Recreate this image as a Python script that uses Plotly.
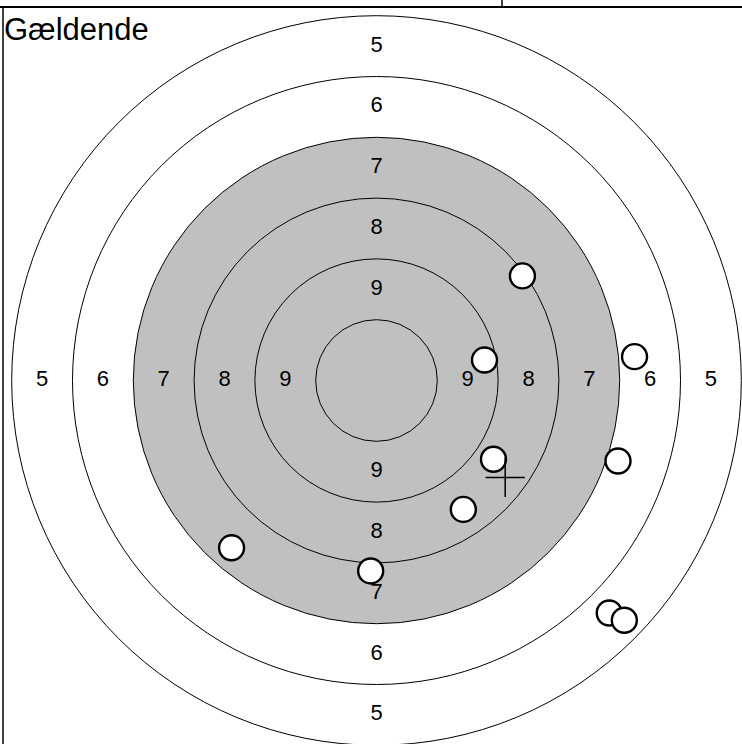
import plotly.graph_objects as go

# Target geometry (mm): ring number -> outer radius
ring_numbers = [5, 6, 7, 8, 9, 10]
ring_radii = [150, 125, 100, 75, 50, 25]
black_from_ring = 7

# Shot positions (mm, x right, y up)
shot_x = [60.0, 44.4, 106.1, 48.1, 99.3, 35.7, -59.6, -2.4, 95.7, 101.9]
shot_y = [43.0, 8.4, 9.8, -32.4, -33.1, -53.0, -68.8, -78.3, -95.6, -98.6]

title_text = "Gældende"

fig = go.Figure()

shapes = []
for num, r in zip(ring_numbers, ring_radii):
    fill = "#c0c0c0" if num >= black_from_ring else "white"
    shapes.append(dict(type="circle", xref="x", yref="y", x0=-r, y0=-r, x1=r, y1=r,
                       fillcolor=fill, line=dict(color="black", width=1), layer="below"))

# Ring labels along the four axes
lab_x, lab_y, lab_t = [], [], []
for i, num in enumerate(ring_numbers[:-1]):
    mid = (ring_radii[i] + ring_radii[i + 1]) / 2
    for dx, dy in [(-1, 0), (1, 0), (0, 1), (0, -1)]:
        lab_x.append(dx * mid)
        lab_y.append(dy * mid)
        lab_t.append(str(num))

fig.add_trace(go.Scatter(x=lab_x, y=lab_y, text=lab_t, mode="text",
                         textfont=dict(family="Liberation Sans, Arial", size=22, color="black"),
                         hoverinfo="skip"))

fig.add_trace(go.Scatter(x=shot_x, y=shot_y, mode="markers",
                         marker=dict(size=25, color="white", line=dict(color="black", width=2.4))))

mean_x = sum(shot_x) / len(shot_x)
mean_y = sum(shot_y) / len(shot_y)
fig.add_trace(go.Scatter(x=[mean_x], y=[mean_y], mode="markers",
                         marker=dict(symbol="cross-thin", size=28,
                                     line=dict(color="black", width=1.5))))

# Frame lines (paper coordinates)
H = 744.0
W = 742.0
shapes.append(dict(type="line", xref="paper", yref="paper", x0=0, x1=1,
                   y0=1 - 7 / H, y1=1 - 7 / H, line=dict(color="black", width=2)))
shapes.append(dict(type="line", xref="paper", yref="paper", x0=3 / W, x1=3 / W,
                   y0=0, y1=1 - 7 / H, line=dict(color="black", width=1.5)))
shapes.append(dict(type="line", xref="paper", yref="paper", x0=502 / W, x1=502 / W,
                   y0=1 - 7 / H, y1=1, line=dict(color="black", width=1.5)))

scale = 60.8 / 25.0
cx, cy = 376.5, 380.5
fig.update_layout(
    width=742, height=744,
    margin=dict(l=0, r=0, t=0, b=0),
    paper_bgcolor="white", plot_bgcolor="white",
    showlegend=False,
    shapes=shapes,
    xaxis=dict(range=[(0 - cx) / scale, (W - cx) / scale], visible=False, fixedrange=True),
    yaxis=dict(range=[(cy - H) / scale, (cy - 0) / scale], visible=False, fixedrange=True),
    annotations=[dict(text=title_text, xref="paper", yref="paper", x=2 / W, y=1 - 10 / H,
                      xanchor="left", yanchor="top", showarrow=False,
                      font=dict(family="Liberation Sans, Arial", size=31, color="black"))],
)

fig.write_html("out.html", config={"displayModeBar": False},
               post_script="document.body.style.margin='0';document.body.style.overflow='hidden';")
